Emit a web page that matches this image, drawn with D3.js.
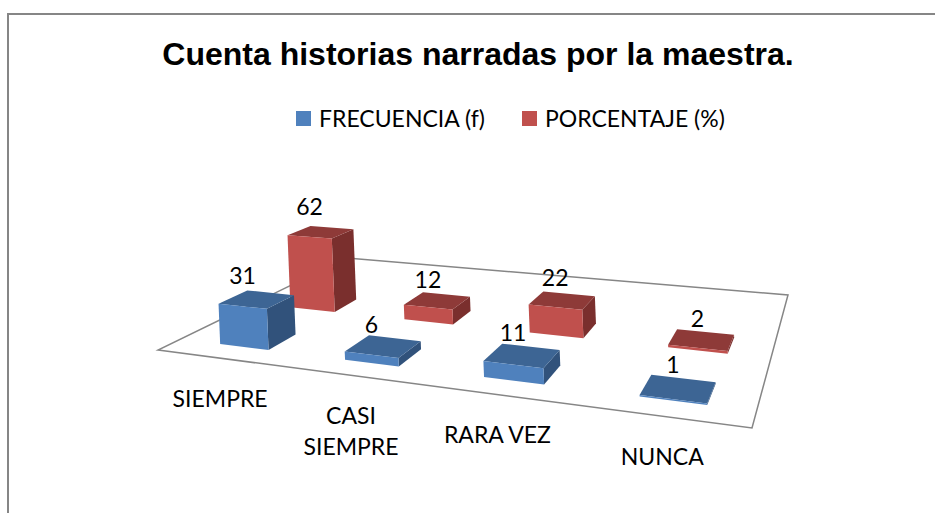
<!DOCTYPE html>
<html>
<head>
<meta charset="utf-8">
<script src="https://cdnjs.cloudflare.com/ajax/libs/d3/7.8.5/d3.min.js"></script>
<style>
    html, body { margin: 0; padding: 0; background: #fff; overflow: hidden; }
    svg { display: block; }
    text { font-family: Lato, "Noto Sans", sans-serif; fill: #000; }
</style>
</head>
<body>
<script>
const categories = ["SIEMPRE", "CASI\nSIEMPRE", "RARA VEZ", "NUNCA"]
const seriesNames = ["FRECUENCIA (f)", "PORCENTAJE (%)"]
const frecuencia = [31, 6, 11, 1]
const porcentaje = [62, 12, 22, 2]
const titleText = "Cuenta historias narradas por la maestra."

const width = 935
const height = 513

const colors = [
    {front: "#4f81bd", top: "#3d6594", side: "#31527b"},
    {front: "#c0504d", top: "#8e3a38", side: "#7a2f2d"}
]

// floor of the 3d box on screen: front left, front right, back right, back left
const floor = [[158, 350], [752, 428], [788, 295], [347, 258]]

// square -> quad projection for the floor
function makeProjection(q) {
    const [[x0, y0], [x1, y1], [x2, y2], [x3, y3]] = q
    const dx1 = x1 - x2, dx2 = x3 - x2, sx = x0 - x1 + x2 - x3
    const dy1 = y1 - y2, dy2 = y3 - y2, sy = y0 - y1 + y2 - y3
    const den = dx1 * dy2 - dx2 * dy1
    const g = (sx * dy2 - dx2 * sy) / den
    const h = (dx1 * sy - sx * dy1) / den
    const a = x1 - x0 + g * x1, b = x3 - x0 + h * x3
    const d = y1 - y0 + g * y1, e = y3 - y0 + h * y3
    return (u, v, z = 0) => {
        const w = g * u + h * v + 1
        const lift = z / w
        return [(a * u + b * v + x0) / w - lift * 0.04, (d * u + e * v + y0) / w - lift]
    }
}
const project = makeProjection(floor)

const xScale = d3.scaleBand()
    .domain(categories)
    .range([0.01, 1.005])
    .paddingInner(0.6)
    .paddingOuter(0.3)

const depthScale = d3.scaleBand()
    .domain(seriesNames)
    .range([0, 0.65])
    .paddingInner(0.62)
    .paddingOuter(0.265)

const zScale = d3.scaleLinear().domain([0, 62]).range([0, 82])

const svg = d3.select("body").append("svg")
    .attr("width", width)
    .attr("height", height)

// chart frame, runs off the picture on the right and bottom
svg.append("path")
    .attr("d", `M8,${height}V14H${width}`)
    .attr("fill", "none")
    .attr("stroke", "#868686")
    .attr("stroke-width", 2)

svg.append("text")
    .attr("x", 478)
    .attr("y", 65)
    .attr("text-anchor", "middle")
    .style("font-family", "'Liberation Sans', Arial, sans-serif")
    .style("font-weight", "bold")
    .style("font-size", "32px")
    .text(titleText)

const legendX = [296, 522]
seriesNames.forEach((name, i) => {
    svg.append("rect")
        .attr("x", legendX[i])
        .attr("y", 111)
        .attr("width", 15)
        .attr("height", 15)
        .attr("fill", colors[i].front)
    svg.append("text")
        .attr("x", legendX[i] + 23)
        .attr("y", 127)
        .style("font-size", "23px")
        .text(name)
})

svg.append("polygon")
    .attr("points", floor.join(" "))
    .attr("fill", "#fff")
    .attr("stroke", "#868686")
    .attr("stroke-width", 1.5)

const seriesValues = [frecuencia, porcentaje]
const bars = []
// back series first so the front one overlaps it
for (let s = seriesNames.length - 1; s >= 0; s--) {
    categories.forEach((cat, c) => {
        bars.push({cat, s, value: seriesValues[s][c]})
    })
}

const face = pts => "M" + pts.map(p => p.join(",")).join("L") + "Z"

const barGroups = svg.append("g")
    .selectAll("g")
    .data(bars)
    .enter().append("g")

function corners(bar) {
    const u0 = xScale(bar.cat), u1 = u0 + xScale.bandwidth()
    const v0 = depthScale(seriesNames[bar.s]), v1 = v0 + depthScale.bandwidth()
    return {u0, u1, v0, v1, z: zScale(bar.value)}
}

barGroups.append("path")
    .attr("fill", d => colors[d.s].side)
    .attr("d", d => {
        const {u1, v0, v1, z} = corners(d)
        return face([project(u1, v0), project(u1, v1), project(u1, v1, z), project(u1, v0, z)])
    })

barGroups.append("path")
    .attr("fill", d => colors[d.s].top)
    .attr("d", d => {
        const {u0, u1, v0, v1, z} = corners(d)
        return face([project(u0, v0, z), project(u1, v0, z), project(u1, v1, z), project(u0, v1, z)])
    })

barGroups.append("path")
    .attr("fill", d => colors[d.s].front)
    .attr("d", d => {
        const {u0, u1, v0, z} = corners(d)
        return face([project(u0, v0), project(u1, v0), project(u1, v0, z), project(u0, v0, z)])
    })

svg.append("g")
    .selectAll("text")
    .data(bars)
    .enter().append("text")
    .attr("text-anchor", "middle")
    .attr("dominant-baseline", "central")
    .style("font-size", "23px")
    .attr("x", d => {
        const {u0, u1, v0, z} = corners(d)
        return project((u0 + u1) / 2, v0, z)[0]
    })
    .attr("y", d => {
        const {u0, u1, v1, z} = corners(d)
        return project((u0 + u1) / 2, v1, z)[1] - 14 - z * 0.09
    })
    .text(d => d.value)

// category labels hang under the front edge of the floor
const catLabels = svg.append("g")
    .selectAll("text")
    .data(categories)
    .enter().append("text")
    .attr("text-anchor", "middle")
    .style("font-size", "23px")
    .attr("transform", d => {
        const [x, y] = project(xScale(d) + xScale.bandwidth() / 2, 0)
        return `translate(${x - 3},${y + 48})`
    })

catLabels.selectAll("tspan")
    .data(d => d.split("\n"))
    .enter().append("tspan")
    .attr("x", 0)
    .attr("dy", (d, i) => i ? 31 : 0)
    .text(d => d)
</script>
</body>
</html>
